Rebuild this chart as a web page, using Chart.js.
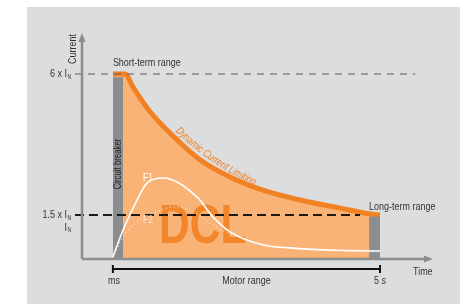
<!DOCTYPE html>
<html><head><meta charset="utf-8">
<script src="https://cdn.jsdelivr.net/npm/chart.js@4"></script>
<style>html,body{margin:0;padding:0;background:#fff}canvas{display:block}</style>
</head><body>
<canvas id="c" width="474" height="304"></canvas>
<script>
// ---- data (x: time units 0..100, y: multiples of I_N) ----
const dclX = [8.8, 12.3, 14.5, 19, 24.2, 33.6, 42, 51.3, 62.1, 73.5, 82.1, 84.9];
const dclY = [6.0, 6.0, 5.59, 4.85, 4.21, 3.26, 2.72, 2.30, 1.98, 1.72, 1.53, 1.50];
const f1X = [8.8, 11.7, 15.7, 18.5, 23.1, 32.8, 37.3, 42.2, 51.6, 59.3, 70.7, 84.9];
const f1Y = [0.16, 1.02, 1.98, 2.52, 2.68, 2.07, 1.44, 0.96, 0.54, 0.45, 0.38, 0.35];
const f2X = [8.8, 11.7, 16.5, 21.4, 25.9, 30.8, 37.3, 45.0, 53.6, 62.1, 73.5, 84.9];
const f2Y = [0.13, 0.80, 1.34, 1.60, 1.76, 1.66, 1.18, 0.77, 0.54, 0.41, 0.35, 0.32];
const msBarX = [8.8, 11.7];      const msBarY = [5.9, 5.9];
const longBarX = [81.8, 84.9];   const longBarY = [1.45, 1.45];
const line6X = [-2, 94.9];       const line6Y = [6, 6];
const line15X = [-2, 79.2];      const line15Y = [1.5, 1.5];
const yTickValues = [6, 1.5, 1];
const yTickLabels = ['6 x I', '1.5 x I', 'I'];
const yTickSub = 'N';
const xTickValues = [8.8, 84.9];
const xTickLabels = ['ms', '5 s'];

const FAM = "'Liberation Sans', Arial, sans-serif";
const SX = 0.78; // horizontal condensation
const TXT = '#333333';
const ORANGE = '#f08224';
const LIGHT = '#fab377';
const GRAY = '#8b8d8f';
const pts = (xs, ys) => xs.map((x, i) => ({x, y: ys[i]}));

function ctext(c, s, x, y, size, align, style, sx) {
  c.save();
  c.font = (style || '') + ' ' + size + 'px ' + FAM;
  c.translate(x, y);
  c.scale(sx || SX, 1);
  c.textAlign = align || 'left';
  c.fillText(s, 0, 0);
  c.restore();
}

function curvedText(c, s, p0, p1, p2, size, style) {
  const N = 300, P = [], L = [0];
  for (let i = 0; i <= N; i++) {
    const t = i / N, u = 1 - t;
    P.push([u*u*p0[0] + 2*u*t*p1[0] + t*t*p2[0], u*u*p0[1] + 2*u*t*p1[1] + t*t*p2[1]]);
    if (i) L.push(L[i-1] + Math.hypot(P[i][0]-P[i-1][0], P[i][1]-P[i-1][1]));
  }
  c.save();
  c.font = (style || '') + ' ' + size + 'px ' + FAM;
  c.textBaseline = 'alphabetic';
  c.textAlign = 'center';
  let pos = 0;
  for (const ch of s) {
    const w = c.measureText(ch).width * SX;
    const target = pos + w / 2;
    let k = 0; while (k < N && L[k] < target) k++;
    const a = Math.atan2(P[Math.min(k+1,N)][1] - P[Math.max(k-1,0)][1], P[Math.min(k+1,N)][0] - P[Math.max(k-1,0)][0]);
    c.save();
    c.translate(P[k][0], P[k][1]);
    c.rotate(a);
    c.scale(SX, 1);
    c.fillText(ch, 0, 0);
    c.restore();
    pos += w;
  }
  c.restore();
}

const deco = {
  id: 'deco',
  beforeDraw(chart) {
    const c = chart.ctx;
    c.save();
    c.fillStyle = '#dcdddf';
    c.fillRect(27, 7, 433, 297);
    c.restore();
  },
  afterDatasetDraw(chart, args) {
    if (args.index !== 6) return;
    const c = chart.ctx, xs = chart.scales.x;
    c.save();
    c.fillStyle = '#f3862a';
    c.textBaseline = 'alphabetic';
    ctext(c, 'DCL', xs.getPixelForValue(34.4), 243, 56, 'center', 'bold', 0.76);
    c.restore();
  },
  afterDraw(chart) {
    const c = chart.ctx, xs = chart.scales.x, ys = chart.scales.y, a = chart.chartArea;
    c.save();
    // axes
    c.strokeStyle = GRAY; c.fillStyle = GRAY; c.lineWidth = 2.5;
    c.beginPath();
    c.moveTo(a.left, a.bottom); c.lineTo(a.left, a.top + 6);
    c.moveTo(a.left, a.bottom); c.lineTo(a.right - 6, a.bottom);
    c.stroke();
    c.beginPath();
    c.moveTo(a.left, a.top); c.lineTo(a.left - 3.5, a.top + 9); c.lineTo(a.left + 3.5, a.top + 9); c.closePath();
    c.moveTo(a.right, a.bottom); c.lineTo(a.right - 9, a.bottom - 3.5); c.lineTo(a.right - 9, a.bottom + 3.5); c.closePath();
    c.fill();
    // y tick labels
    c.fillStyle = TXT;
    c.textBaseline = 'middle';
    yTickValues.forEach((v, i) => {
      const y = ys.getPixelForValue(v) - (i === 2 ? 3 : 0);
      ctext(c, yTickLabels[i], 67, y, 11.5, 'right');
      ctext(c, yTickSub, 67.6, y + 3, 6.5, 'left');
    });
    // axis titles
    c.save(); c.translate(73, 49); c.rotate(-Math.PI / 2);
    ctext(c, 'Current', 0, 0, 11.5, 'center'); c.restore();
    c.textBaseline = 'alphabetic';
    ctext(c, 'Time', 413, 275, 11.5, 'left');
    // range labels
    ctext(c, 'Short-term range', xs.getPixelForValue(msBarX[0]), ys.getPixelForValue(6) - 8, 11.5, 'left');
    ctext(c, 'Long-term range', xs.getPixelForValue(longBarX[0]), ys.getPixelForValue(longBarY[0]) - 7, 11.5, 'left');
    // x ticks + motor range bracket
    const x0 = xs.getPixelForValue(xTickValues[0]), x1 = xs.getPixelForValue(xTickValues[1]);
    c.strokeStyle = '#111'; c.lineWidth = 2;
    c.beginPath();
    c.moveTo(x0, 269); c.lineTo(x1, 269);
    c.moveTo(x0, 265); c.lineTo(x0, 273);
    c.moveTo(x1, 265); c.lineTo(x1, 273);
    c.stroke();
    ctext(c, xTickLabels[0], x0 + 1, 284, 11.5, 'center');
    ctext(c, xTickLabels[1], x1, 284, 11.5, 'center');
    ctext(c, 'Motor range', (x0 + x1) / 2, 284, 11.5, 'center');
    // circuit breaker
    c.fillStyle = '#1e1e1e';
    c.save();
    c.translate((xs.getPixelForValue(msBarX[0]) + xs.getPixelForValue(msBarX[1])) / 2 + 0.5, 164);
    c.rotate(-Math.PI / 2);
    c.textBaseline = 'middle';
    ctext(c, 'Circuit breaker', 0, 0, 10, 'center');
    c.restore();
    // dynamic current limiting (along the curve)
    c.fillStyle = ORANGE;
    curvedText(c, 'Dynamic Current Limiting', [175, 131], [214, 170], [270, 192], 11, 'italic');
    // F1 / F2
    c.textBaseline = 'alphabetic';
    c.fillStyle = '#ffffff';
    ctext(c, 'F1', 143, 181, 11, 'left');
    c.fillStyle = 'rgba(255,255,255,0.7)';
    ctext(c, 'F2', 143, 223, 11, 'left');
    c.restore();
  }
};

new Chart(document.getElementById('c'), {
  type: 'line',
  data: {
    datasets: [
      {data: pts(line6X, line6Y), borderColor: '#5a5a5a', borderWidth: 1.1, borderDash: [7, 6], pointRadius: 0, clip: false, order: 0},
      {data: pts(line15X, line15Y), borderColor: '#1a1a1a', borderWidth: 2, borderDash: [9, 5], pointRadius: 0, clip: false, order: 1},
      {data: pts(f1X, f1Y), borderColor: '#ffffff', borderWidth: 1.6, pointRadius: 0, cubicInterpolationMode: 'monotone', order: 2},
      {data: pts(f2X, f2Y), borderColor: 'rgba(255,255,255,0.65)', borderWidth: 1.4, borderDash: [1, 3], pointRadius: 0, cubicInterpolationMode: 'monotone', order: 3},
      {data: pts(msBarX, msBarY), borderWidth: 0, backgroundColor: GRAY, fill: 'origin', pointRadius: 0, order: 4},
      {data: pts(longBarX, longBarY), borderWidth: 0, backgroundColor: GRAY, fill: 'origin', pointRadius: 0, order: 5},
      {data: pts(dclX, dclY), borderColor: ORANGE, borderWidth: 5, backgroundColor: LIGHT, fill: 'origin', pointRadius: 0, cubicInterpolationMode: 'monotone', order: 6}
    ]
  },
  options: {
    responsive: false,
    devicePixelRatio: 1,
    animation: false,
    events: [],
    layout: {padding: {left: 82, right: 41, top: 33, bottom: 45}},
    plugins: {legend: {display: false}, tooltip: {enabled: false}},
    scales: {
      x: {type: 'linear', min: 0, max: 100, display: false},
      y: {type: 'linear', min: 0.095, max: 7.31, display: false}
    }
  },
  plugins: [deco]
});
</script>
</body></html>
